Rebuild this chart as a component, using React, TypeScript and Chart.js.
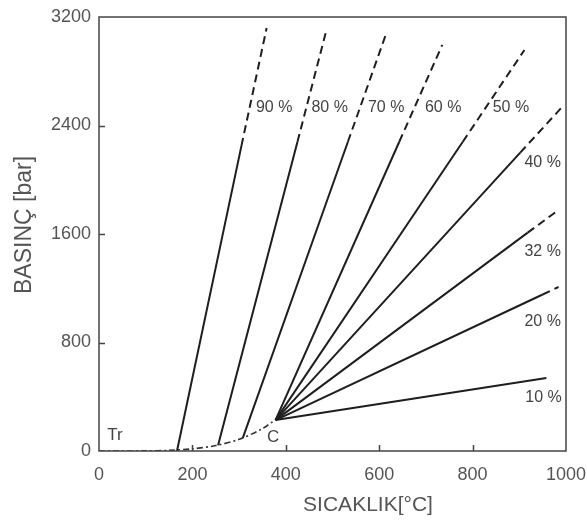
import React, { useEffect, useRef } from "react";
import { Chart, registerables } from "chart.js";

Chart.register(...registerables);

// ---------- data ----------
const xTickValues = [0, 200, 400, 600, 800, 1000];
const yTickValues = [0, 800, 1600, 2400, 3200];

// vapor-pressure curve (Tr -> C)
const vaporT = [0, 100, 150, 200, 250, 300, 350, 374];
const vaporP = [0, 1, 5, 16, 40, 86, 165, 221];

// isochores (density %), solid up to index dashFrom, dashed after
const line90T = [167, 305, 359];
const line90P = [0, 2250, 3119];
const line80T = [255, 425, 486];
const line80P = [43, 2280, 3090];
const line70T = [308, 533, 614];
const line70P = [97, 2280, 3068];
const line60T = [378, 643, 735];
const line60P = [228, 2280, 2994];
const line50T = [378, 779, 911];
const line50P = [228, 2280, 2957];
const line40T = [378, 902, 990];
const line40P = [228, 2200, 2530];
const line32T = [378, 918, 984];
const line32P = [228, 1610, 1777];
const line20T = [378, 950, 984];
const line20P = [228, 1154, 1209];
const line10T = [378, 958];
const line10P = [228, 538];

const lineNames = ["90 %", "80 %", "70 %", "60 %", "50 %", "40 %", "32 %", "20 %", "10 %"];
const lineTs = [line90T, line80T, line70T, line60T, line50T, line40T, line32T, line20T, line10T];
const linePs = [line90P, line80P, line70P, line60P, line50P, line40P, line32P, line20P, line10P];
const dashFrom = [1, 1, 1, 1, 1, 1, 1, 1, 99];

// label anchor positions (data coords)
const labelT = [375, 494, 615, 737, 882, 950, 950, 950, 952];
const labelP = [2529, 2529, 2529, 2529, 2529, 2124, 1468, 951, 391];

const pointNames = ["Tr", "C"];
const pointLabelT = [34, 373];
const pointLabelP = [118, 103];

const FONT = '"Liberation Sans", Arial, Helvetica, sans-serif';

export default function App() {
  const ref = useRef<HTMLCanvasElement | null>(null);

  useEffect(() => {
    if (!ref.current) return;

    const datasets: any[] = lineTs.map((ts, k) => {
      const ps = linePs[k];
      const df = dashFrom[k];
      return {
        label: lineNames[k],
        data: ts.map((t, i) => ({ x: t, y: ps[i] })),
        borderColor: "#1e1e1e",
        borderWidth: 2,
        pointRadius: 0,
        fill: false,
        tension: 0,
        segment: {
          borderDash: (ctx: any) => (ctx.p0DataIndex >= df ? [8, 5] : []),
        },
      };
    });
    datasets.push({
      label: "vapor",
      data: vaporT.map((t, i) => ({ x: t, y: vaporP[i] })),
      borderColor: "#333",
      borderWidth: 1.6,
      borderDash: [6, 3, 2, 3],
      pointRadius: 0,
      fill: false,
      tension: 0.3,
    });

    const decor = {
      id: "decor",
      afterDraw(chart: any) {
        const { ctx, chartArea: a } = chart;
        const xs = chart.scales.x;
        const ys = chart.scales.y;
        ctx.save();
        ctx.strokeStyle = "#444";
        ctx.lineWidth = 1.5;
        ctx.strokeRect(a.left, a.top, a.right - a.left, a.bottom - a.top);
        ctx.beginPath();
        xTickValues.forEach((v) => {
          if (v > 0 && v < 1000) {
            const px = Math.round(xs.getPixelForValue(v)) + 0.5;
            ctx.moveTo(px, a.bottom);
            ctx.lineTo(px, a.bottom - 6);
          }
        });
        yTickValues.forEach((v) => {
          if (v > 0 && v < 3200) {
            const py = Math.round(ys.getPixelForValue(v)) + 0.5;
            ctx.moveTo(a.left, py);
            ctx.lineTo(a.left + 6, py);
          }
        });
        ctx.stroke();

        ctx.fillStyle = "#444";
        ctx.font = `16px ${FONT}`;
        ctx.textAlign = "center";
        ctx.textBaseline = "middle";
        lineNames.forEach((n, i) => {
          ctx.fillText(n, xs.getPixelForValue(labelT[i]), ys.getPixelForValue(labelP[i]));
        });
        ctx.font = `17px ${FONT}`;
        pointNames.forEach((n, i) => {
          ctx.fillText(n, xs.getPixelForValue(pointLabelT[i]), ys.getPixelForValue(pointLabelP[i]));
        });

        ctx.fillStyle = "#555";
        ctx.font = `21px ${FONT}`;
        ctx.fillText("SICAKLIK[°C]", 368, 505);
        ctx.translate(25, 225);
        ctx.rotate(-Math.PI / 2);
        ctx.font = `23px ${FONT}`;
        ctx.fillText("BASINÇ [bar]", 0, 0);
        ctx.restore();
      },
    };

    const chart = new Chart(ref.current, {
      type: "line",
      data: { datasets },
      options: {
        animation: false,
        responsive: false,
        maintainAspectRatio: false,
        layout: { padding: { top: 17, right: 21, left: 0, bottom: 0 } },
        plugins: { legend: { display: false }, tooltip: { enabled: false } },
        scales: {
          x: {
            type: "linear",
            min: 0,
            max: 1000,
            afterFit: (s: any) => {
              s.height = 75;
              s.paddingLeft = 0;
              s.paddingRight = 0;
            },
            afterBuildTicks: (s: any) => {
              s.ticks = xTickValues.map((v) => ({ value: v }));
            },
            ticks: {
              color: "#555",
              font: { size: 18, family: FONT },
              padding: 13,
              maxRotation: 0,
              callback: (v: any) => String(v),
            },
            grid: { display: false, drawTicks: false },
            border: { display: false },
          },
          y: {
            type: "linear",
            min: 0,
            max: 3200,
            afterFit: (s: any) => {
              s.width = 99;
              s.paddingTop = 0;
              s.paddingBottom = 0;
            },
            afterBuildTicks: (s: any) => {
              s.ticks = yTickValues.map((v) => ({ value: v }));
            },
            ticks: {
              color: "#555",
              font: { size: 18, family: FONT },
              padding: 8,
              callback: (v: any) => String(v),
            },
            grid: { display: false, drawTicks: false },
            border: { display: false },
          },
        },
      },
      plugins: [decor],
    });
    return () => chart.destroy();
  }, []);

  return (
    <canvas
      ref={ref}
      width={587}
      height={526}
      style={{ position: "absolute", left: 0, top: 0, width: 587, height: 526 }}
    />
  );
}
